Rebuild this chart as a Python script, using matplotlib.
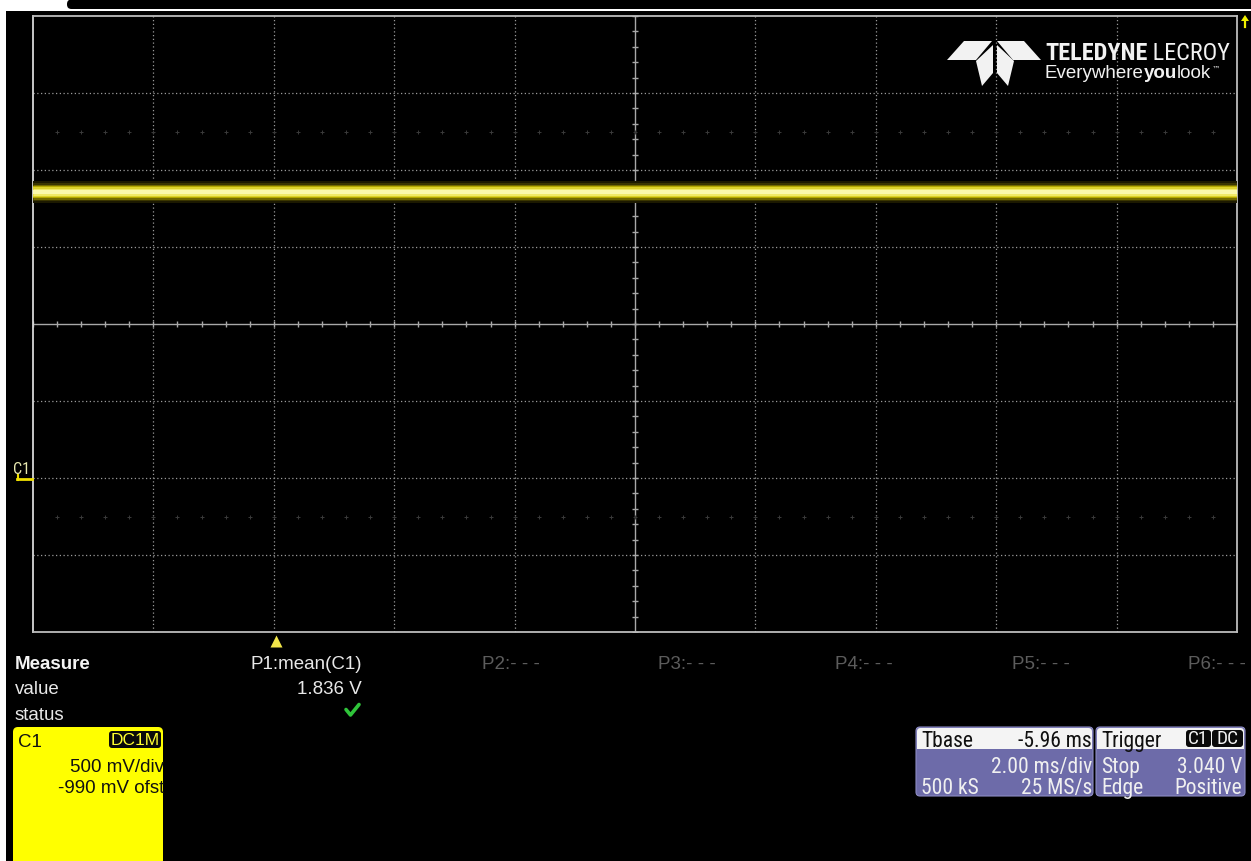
import numpy as np
import matplotlib
matplotlib.use('Agg')
import matplotlib.pyplot as plt
from matplotlib.transforms import Affine2D
from matplotlib.patches import Rectangle, FancyBboxPatch, Polygon
from matplotlib.lines import Line2D
from matplotlib import font_manager as fm

# ---------------- data ----------------
time_ms = [-4.04, 15.96]        # trace start / end relative to trigger (ms)
trace_v = [1.85, 1.85]          # C1 DC level seen on screen (V)
x_range_ms = [-4.04, 15.96]
y_range_v = [-1.01, 2.99]
ms_per_div = 2.0
v_per_div = 0.5
center_t = 5.96
center_v = 0.99
trigger_t = 0.0
ground_v = 0.0

measure_labels = ['Measure', 'value', 'status']
param_names = ['P1:mean(C1)', 'P2:- - -', 'P3:- - -', 'P4:- - -', 'P5:- - -', 'P6:- - -']
p1_value = '1.836 V'
c1_info = ['C1', 'DC1M', '500 mV/div', '-990 mV ofst']
tbase_info = ['Tbase', '-5.96 ms', '2.00 ms/div', '500 kS', '25 MS/s']
trigger_info = ['Trigger', 'C1', 'DC', 'Stop', '3.040 V', 'Edge', 'Positive']
logo_words = ['TELEDYNE', 'LECROY', 'Everywhere', 'you', 'look', '\u2122']

# ---------------- fonts ----------------
def has_font(name):
    try:
        fm.findfont(fm.FontProperties(family=name), fallback_to_default=False)
        return True
    except Exception:
        return False

REG = 'Liberation Sans' if has_font('Liberation Sans') else 'DejaVu Sans'
NAR, NSCALE = REG, 0.82
for cand in ['Liberation Sans Narrow', 'Arial Narrow', 'Roboto Condensed']:
    if has_font(cand):
        NAR, NSCALE = cand, 1.0
        break
plt.rcParams['font.family'] = [REG, 'DejaVu Sans']

W, H = 1251, 862
fig = plt.figure(figsize=(W / 100, H / 100), dpi=100, facecolor='white')
T = Affine2D().scale(1.0 / W, -1.0 / H).translate(0, 1) + fig.transFigure


def txt(x, y, s, fam=REG, size=13.5, color='#e8e8e8', ha='left', weight='normal', va='baseline', **kw):
    return fig.text(x, y, s, transform=T, family=[fam, 'DejaVu Sans'], fontsize=size,
                    color=color, ha=ha, va=va, fontweight=weight, zorder=10, **kw)


def rbox(x, y, w, h, color, r=4, z=3, ec='none', lw=0):
    p = FancyBboxPatch((x, y), w, h, boxstyle=f'round,pad=0,rounding_size={r}',
                       transform=T, facecolor=color, edgecolor=ec, linewidth=lw, zorder=z)
    fig.add_artist(p)
    return p


def rect(x, y, w, h, color, z=3):
    p = Rectangle((x, y), w, h, transform=T, facecolor=color, edgecolor='none', zorder=z)
    fig.add_artist(p)
    return p


# background
rect(6, 12, W - 6, H - 12, 'black', z=-5)
rbox(67, 0.5, W - 67 + 20, 9.5, 'black', r=4.5, z=-5)

# ---------------- scope grid ----------------
ax = fig.add_axes([33 / W, 1 - 633 / H, (1237 - 33) / W, (633 - 17) / H])
ax.set_facecolor('black')
ax.set_xlim(x_range_ms)
ax.set_ylim(y_range_v)
ax.set_xticks([])
ax.set_yticks([])
for s in ax.spines.values():
    s.set_color('#bdbdbd')
    s.set_linewidth(1.3)
ax.spines['left'].set_color('#d8d8d8')

eps = 1e-6
xmaj = np.arange(x_range_ms[0], x_range_ms[1] + eps, ms_per_div)
ymaj = np.arange(y_range_v[0], y_range_v[1] + eps, v_per_div)
for xv in xmaj[1:-1]:
    if abs(xv - center_t) > 1e-3:
        ax.axvline(xv, color='#9a9a9a', lw=0.9, ls=(0, (1, 2)), zorder=1)
for yv in ymaj[1:-1]:
    if abs(yv - center_v) > 1e-3:
        ax.axhline(yv, color='#9a9a9a', lw=0.9, ls=(0, (1, 2)), zorder=1)

# center cross with minor ticks
ax.axhline(center_v, color='#a8a8a8', lw=1.0, zorder=1)
ax.axvline(center_t, color='#a8a8a8', lw=1.0, zorder=1)
xmin = np.arange(x_range_ms[0], x_range_ms[1] + eps, ms_per_div / 5)
ymin = np.arange(y_range_v[0], y_range_v[1] + eps, v_per_div / 5)
ax.plot(xmin, np.full(len(xmin), center_v), ls='none', marker='|', ms=5, mew=1.0,
        color='#a8a8a8', zorder=1)
ax.plot(np.full(len(ymin), center_t), ymin, ls='none', marker='_', ms=5, mew=1.0,
        color='#a8a8a8', zorder=1)

# faint persistence dots rows
for yv in [y_range_v[1] - 1.5 * v_per_div, y_range_v[0] + 1.5 * v_per_div]:
    ax.plot(xmin[1:-1], np.full(len(xmin) - 2, yv), ls='none', marker='+', ms=3, mew=0.7,
            color='#3a3a3a', zorder=1)

# trace (C1)
layers = [(22, '#1c1900'), (18, '#3a3500'), (15, '#736a00'), (12, '#b3a600'),
          (10, '#ddd22c'), (7, '#f1ea68'), (4, '#fbf8ac')]
for lw_px, col in layers:
    ax.plot(time_ms, trace_v, color=col, lw=lw_px / 1.389, solid_capstyle='butt', zorder=3)

# trigger time marker (below grid)
ax.plot([trigger_t], [-0.014], transform=ax.get_xaxis_transform(), marker='^', ms=8,
        color='#f2e64a', clip_on=False, zorder=5, mec='none')

# ground marker C1
fig.add_artist(Line2D([17, 32], [479.5, 479.5], transform=T, color='#f0e000', lw=2.0, zorder=6))
fig.add_artist(Line2D([17.5, 17.5], [476, 481], transform=T, color='#f0e000', lw=1.5, zorder=6))
txt(13, 474, 'C1', fam=NAR, size=11.5 * NSCALE if NSCALE == 1 else 9.5, color='#e8e8b0')

# trigger level arrow (off-screen above)
fig.add_artist(Line2D([1245, 1245], [20, 28], transform=T, color='#f0f000', lw=1.6, zorder=6))
fig.add_artist(Polygon([(1241, 22), (1249, 22), (1245, 16)], closed=True, transform=T,
                       facecolor='#f0f000', edgecolor='none', zorder=6))

# ---------------- logo ----------------
logo_col = '#f2f2f2'
logo_polys = [
    [(947, 61), (964, 42), (992, 42), (976, 61)],
    [(1041, 61), (1024, 42), (997, 42), (1013, 61)],
    [(993, 46), (976, 62), (982, 87), (993, 74)],
    [(997, 46), (1014, 62), (1008, 87), (997, 74)],
]
for pts in logo_polys:
    fig.add_artist(Polygon(pts, closed=True, transform=T, facecolor=logo_col,
                           edgecolor='none', zorder=6))
lsize = 17.5 * NSCALE if NSCALE == 1 else 15
t1 = txt(1045, 60, logo_words[0], fam=NAR, size=lsize, weight='bold', color=logo_col)
ax.annotate(' ' + logo_words[1], xy=(1, 0), xycoords=t1, va='bottom', ha='left',
            family=[NAR, 'DejaVu Sans'], fontsize=lsize, color=logo_col,
            annotation_clip=False, zorder=10)
e1 = txt(1045, 78, logo_words[2], size=13.5, color=logo_col)
e2 = ax.annotate(logo_words[3], xy=(1, 0), xycoords=e1, va='bottom', ha='left',
                 family=[REG, 'DejaVu Sans'], fontsize=13.5, fontweight='bold',
                 color=logo_col, annotation_clip=False, zorder=10)
e3 = ax.annotate(logo_words[4], xy=(1, 0), xycoords=e2, va='bottom', ha='left',
                 family=[REG, 'DejaVu Sans'], fontsize=13.5, color=logo_col,
                 annotation_clip=False, zorder=10)
ax.annotate(logo_words[5], xy=(1, 1), xycoords=e3, va='top', ha='left',
            family=['DejaVu Sans'], fontsize=6, color=logo_col,
            annotation_clip=False, zorder=10)

# ---------------- measure area ----------------
txt(15, 669, measure_labels[0], weight='bold', color='#f4f4f4')
txt(15, 694, measure_labels[1])
txt(15, 720, measure_labels[2])
txt(362, 669, param_names[0], ha='right')
txt(362, 694, p1_value, ha='right')
for xp, name in zip([482, 658, 835, 1012, 1188], param_names[1:]):
    txt(xp, 669, name, color='#5c5c5c')
fig.add_artist(Line2D([346, 350.5, 359], [710.5, 716, 705.5], transform=T, color='#2fc43a',
                      lw=2.6, solid_capstyle='round', solid_joinstyle='round', zorder=10))

# C1 channel box
rbox(13, 728, 150, 150, '#ffff00', r=5, z=3)
txt(18, 747, c1_info[0], color='#111111')
rbox(109, 732, 52, 17, '#0a0a0a', r=3, z=4)
txt(135, 740.5, c1_info[1], ha='center', va='center', color='#ffff30', size=12.5)
txt(164, 772, c1_info[2], ha='right', color='#111111')
txt(164, 793, c1_info[3], ha='right', color='#111111')

# Timebase / trigger boxes
purple = '#6d6ba9'
bsize = 15.5 * NSCALE if NSCALE == 1 else 13.2
for bx, bw in [(916, 177), (1096, 149)]:
    rbox(bx, 728, bw, 69, purple, r=4, z=3, ec='#8d8cc4', lw=0.8)
    rbox(bx + 1, 729, bw - 2, 21, '#f4f4f4', r=3.5, z=4)
    rect(bx + 1, 740, bw - 2, 10, '#f4f4f4', z=4)

txt(921, 747, tbase_info[0], fam=NAR, size=bsize, color='#101010')
txt(1092, 747, tbase_info[1], fam=NAR, size=bsize, color='#101010', ha='right')
txt(1092, 773, tbase_info[2], fam=NAR, size=bsize, ha='right', color='#f0f0f0')
txt(921, 794, tbase_info[3], fam=NAR, size=bsize, color='#f0f0f0')
txt(1092, 794, tbase_info[4], fam=NAR, size=bsize, ha='right', color='#f0f0f0')

txt(1101, 747, trigger_info[0], fam=NAR, size=bsize, color='#101010')
rbox(1186, 731, 25, 17, '#0a0a0a', r=3, z=5)
rbox(1212, 731, 31, 17, '#0a0a0a', r=3, z=5)
txt(1198.5, 739.5, trigger_info[1], fam=NAR, size=bsize * 0.9, ha='center', va='center', color='#f4f4f4')
txt(1227.5, 739.5, trigger_info[2], fam=NAR, size=bsize * 0.9, ha='center', va='center', color='#f4f4f4')
txt(1101, 773, trigger_info[3], fam=NAR, size=bsize, color='#f0f0f0')
txt(1242, 773, trigger_info[4], fam=NAR, size=bsize, ha='right', color='#f0f0f0')
txt(1101, 794, trigger_info[5], fam=NAR, size=bsize, color='#f0f0f0')
txt(1242, 794, trigger_info[6], fam=NAR, size=bsize, ha='right', color='#f0f0f0')

fig.savefig('out.png', dpi=100, facecolor=fig.get_facecolor())
